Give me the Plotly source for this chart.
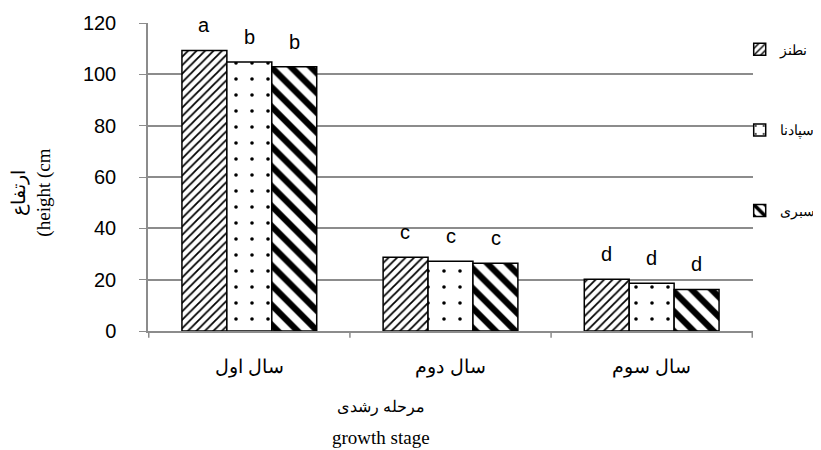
import plotly.graph_objects as go

categories = ["سال اول", "سال دوم", "سال سوم"]
series_names = ["نطنز", "اسپادنا", "سبری"]

# per series (rows) per category (columns)
series_values = [
    [109.3, 28.7, 20.2],
    [104.8, 27.2, 18.6],
    [103.0, 26.4, 16.2],
]
series_letters = [
    ["a", "c", "d"],
    ["b", "c", "d"],
    ["b", "c", "d"],
]
y_ticks = [0, 20, 40, 60, 80, 100, 120]

patterns = [
    dict(shape="/", size=6, solidity=0.3, fgcolor="black", bgcolor="white", fgopacity=1, fillmode="overlay"),
    dict(shape=".", size=16, solidity=0.04, fgcolor="black", bgcolor="white", fgopacity=1, fillmode="overlay"),
    dict(shape="\\", size=14, solidity=0.45, fgcolor="black", bgcolor="white", fgopacity=1, fillmode="overlay"),
]

# the page body adds an 8px margin, so the figure is sized to fit the window
L, R, T, B = 140, 68, 15, 119
W, H = 813, 442
bargap = 0.33
cat_px = (W - L - R) / len(categories)
bar_px = cat_px * (1 - bargap) / len(series_names)

fig = go.Figure()
for i, name in enumerate(series_names):
    fig.add_trace(go.Bar(
        x=categories, y=series_values[i], name=name,
        legendgroup=name,
        marker=dict(color="white", pattern=patterns[i],
                    line=dict(color="black", width=1.5)),
    ))
    for c, v, t in zip(categories, series_values[i], series_letters[i]):
        fig.add_annotation(x=c, y=v, text=t, xref="x", yref="y", showarrow=False,
                           xanchor="center", yanchor="bottom",
                           xshift=(i - 1) * bar_px, yshift=12,
                           font=dict(family="Liberation Sans, Arial", size=20, color="black"))

fig.update_layout(
    width=W, height=H,
    margin=dict(l=L, r=R, t=T, b=B, autoexpand=False),
    paper_bgcolor="white", plot_bgcolor="white",
    barmode="group", bargap=bargap, bargroupgap=0,
    font=dict(family="Liberation Sans, Arial", color="black"),
    legend=dict(xref="container", yref="container", x=0.900, y=0.941, xanchor="left", yanchor="top",
                font=dict(family="Liberation Sans, Arial", size=13.5),
                tracegroupgap=60, itemwidth=30, bgcolor="rgba(0,0,0,0)"),
    showlegend=True,
)
fig.update_yaxes(
    range=[0, 120], tickvals=y_ticks, showgrid=True, gridcolor="#8c8c8c", gridwidth=1.5,
    showline=True, linecolor="#8c8c8c", linewidth=1.5, ticks="outside", ticklen=7,
    tickcolor="#8c8c8c", tickfont=dict(family="Liberation Sans, Arial", size=20),
    ticklabelstandoff=19, zeroline=False,
)
fig.update_xaxes(
    showline=True, linecolor="#8c8c8c", linewidth=1.5, ticks="", showgrid=False,
    tickfont=dict(family="Liberation Sans, Arial", size=19), ticklabelstandoff=17,
)
# category separator ticks
for xv in [-0.5, 0.5, 1.5, 2.5]:
    fig.add_shape(type="line", xref="x", yref="paper", x0=xv, x1=xv, y0=0, y1=-0.022,
                  line=dict(color="#8c8c8c", width=1.5))

fig.add_annotation(text="مرحله رشدی", xref="paper", yref="paper", x=0.385, y=-0.281,
                   showarrow=False, font=dict(family="Liberation Sans, Arial", size=16))
fig.add_annotation(text="growth stage", xref="paper", yref="paper", x=0.385, y=-0.386,
                   showarrow=False, font=dict(family="Liberation Serif, Times New Roman", size=19))
fig.add_annotation(text="ارتفاع<br>(height (cm", xref="paper", yref="paper",
                   x=-0.193, y=0.45, xanchor="center", yanchor="middle",
                   textangle=-90, showarrow=False,
                   font=dict(family="Liberation Serif, Times New Roman", size=19))

fig.write_html("out.html")
